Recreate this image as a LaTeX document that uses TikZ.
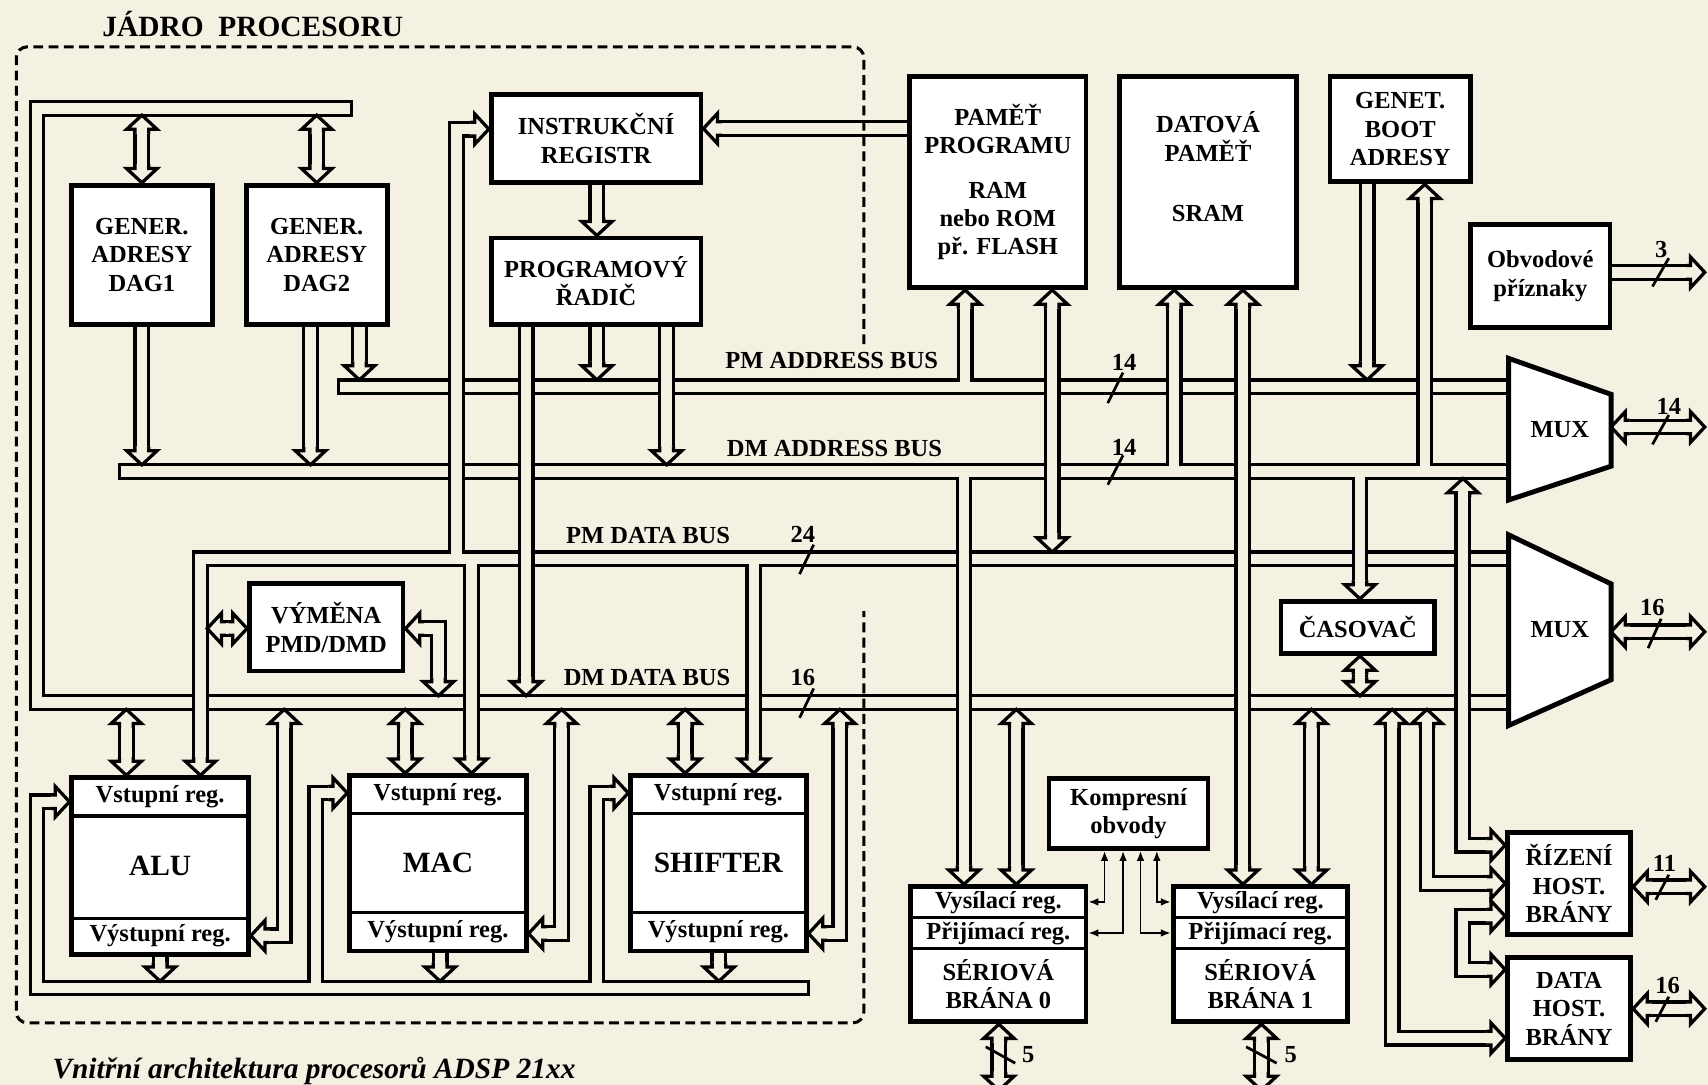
\documentclass[tikz,border=0pt]{standalone}
\usepackage{fontspec}
\setmainfont{Liberation Serif}
\usetikzlibrary{arrows.meta,calc,backgrounds}
\definecolor{paper}{HTML}{F4F1E3}
\tikzset{
  every node/.style={font=\bfseries\fontsize{22.5}{26}\selectfont, align=center, inner sep=0pt},
  blk/.style={draw, fill=white, line width=4.5pt},
  unit/.style={font=\bfseries\fontsize{27}{30}\selectfont},
  bus/.style={draw, line width=3pt, double=paper, double distance=9.5pt},
  busend/.style={line width=3pt},
  sig/.style={{Latex[length=9pt,width=7pt]}-{Latex[length=9pt,width=7pt]}, line width=1.5pt},
  slash/.style={line width=2.5pt},
  frame/.style={line width=2.8pt, dash pattern=on 9pt off 5pt, rounded corners=10pt},
  hd/.pic={\filldraw[fill=paper, line width=3pt] (-17,-6.25) -- (-13,-6.25) -- (-13,-14) -- (0,0) -- (-13,14) -- (-13,6.25) -- (-17,6.25);},
}

\begin{document}
\begin{tikzpicture}[x=1pt, y=-1pt]
  \useasboundingbox (0,0) rectangle (1568,996);

  % ---- processor core ----------------------------------------------------
  \node[blk, minimum width=129.5, minimum height=128] (dag1) at (130.25,234) {GENER.\\ADRESY\\DAG1};
  \node[blk, minimum width=129.5, minimum height=128] (dag2) at (290.75,234) {GENER.\\ADRESY\\DAG2};
  \node[blk, minimum width=192.5, minimum height=80.5] (instr) at (547.25,127.25) {INSTRUKČNÍ\\REGISTR};
  \node[blk, minimum width=192.5, minimum height=79.5] (radic) at (547.25,258.25) {PROGRAMOVÝ\\ŘADIČ};
  \node[blk, minimum width=141, minimum height=80] (vymena) at (299.5,576) {VÝMĚNA\\PMD/DMD};

  \node[blk, unit, minimum width=162, minimum height=162] (alu) at (147,795) {ALU};
  \node[blk, unit, minimum width=162, minimum height=161] (mac) at (402,792.5) {MAC};
  \node[blk, unit, minimum width=161, minimum height=161] (shifter) at (659.5,792.5) {SHIFTER};
  \draw[line width=3pt] (66,749) -- (228,749) (66,843) -- (228,843);
  \draw[line width=3pt] (321,747) -- (483,747) (321,838) -- (483,838);
  \draw[line width=3pt] (579,747) -- (740,747) (579,838) -- (740,838);
  \node (aluin) at (147,731) {Vstupní reg.};
  \node (aluout) at (147,859) {Výstupní reg.};
  \node (macin) at (402,729.5) {Vstupní reg.};
  \node (macout) at (402,855.5) {Výstupní reg.};
  \node (shin) at (659.5,729.5) {Vstupní reg.};
  \node (shout) at (659.5,855.5) {Výstupní reg.};

  % ---- memories and peripherals ------------------------------------------
  \node[blk, minimum width=162, minimum height=194] (pamprog) at (916,167)
    {\fontsize{22.5}{27.5}\selectfont PAMĚŤ\\PROGRAMU\\[15pt]RAM\\nebo ROM\\př. FLASH};
  \node[blk, minimum width=162, minimum height=194] (datpam) at (1109,167) {};
  \node (datpamt) at (1109,153) {DATOVÁ\\PAMĚŤ\\[29pt]SRAM};
  \node[blk, minimum width=129, minimum height=97] (boot) at (1285.5,118.5) {GENET.\\BOOT\\ADRESY};
  \node[blk, minimum width=128, minimum height=95] (flags) at (1414,253.5) {Obvodové\\příznaky};
  \node[blk, minimum width=141, minimum height=48] (casovac) at (1246.5,576) {ČASOVAČ};
  \node[blk, minimum width=146, minimum height=64] (kompres) at (1036,747) {Kompresní\\obvody};

  \node[blk, minimum width=161, minimum height=124] (ser0) at (916.5,876) {};
  \node[blk, minimum width=160, minimum height=124] (ser1) at (1157,876) {};
  \draw[line width=3pt] (836,842) -- (997,842) (836,871) -- (997,871);
  \draw[line width=3pt] (1077,842) -- (1237,842) (1077,871) -- (1237,871);
  \node (ser0tx) at (916.5,828.5) {Vysílací reg.};
  \node (ser0rx) at (916.5,857) {Přijímací reg.};
  \node (ser0n) at (916.5,903.5) {SÉRIOVÁ\\BRÁNA 0};
  \node (ser1tx) at (1157,828.5) {Vysílací reg.};
  \node (ser1rx) at (1157,857) {Přijímací reg.};
  \node (ser1n) at (1157,903.5) {SÉRIOVÁ\\BRÁNA 1};

  \node[blk, minimum width=113, minimum height=94] (rizeni) at (1440.5,811) {ŘÍZENÍ\\HOST.\\BRÁNY};
  \node[blk, minimum width=113, minimum height=94] (datahost) at (1440.5,926) {DATA\\HOST.\\BRÁNY};

  \filldraw[fill=white, line width=4.5pt] (1385,329) -- (1479,362) -- (1479,428) -- (1385,459) -- cycle;
  \filldraw[fill=white, line width=4.5pt] (1385,491) -- (1479,536) -- (1479,624) -- (1385,666) -- cycle;
  \node (mux1) at (1432,394) {MUX};
  \node (mux2) at (1432,578) {MUX};

  % bus levels
  \coordinate (topB) at (0,105.75);
  \coordinate (pmaT) at (0,348.75);  \coordinate (pmaTi) at (0,350.25);
  \coordinate (dmaT) at (0,426.75);  \coordinate (dmaTi) at (0,428.25);
  \coordinate (dmaB) at (0,439.25);  \coordinate (dmaBi) at (0,437.75);
  \coordinate (pmdT) at (0,506.75);  \coordinate (pmdTi) at (0,508.25);
  \coordinate (pmdBi) at (0,517.75);
  \coordinate (dmdT) at (0,638.75);  \coordinate (dmdB) at (0,651.25);
  \coordinate (resT) at (0,900.75);  \coordinate (resTi) at (0,902.25);
  \coordinate (edge) at (1565,0);

  \begin{scope}[on background layer]
    \fill[paper] (0,0) rectangle (1568,996);
    % ---- the four buses ----
    \draw[bus] (323,99.5) -- (34,99.5) -- (34,645) -- (1385,645);
    \draw[busend] (323,91.75) -- (323,107.25);
    \draw[bus] (311,355) -- (1385,355);
    \draw[busend] (311,347.25) -- (311,362.75);
    \draw[bus] (110,433) -- (1385,433);
    \draw[busend] (110,425.25) -- (110,440.75);
    \draw[bus, shorten >=13pt] (1385,513) -- (184,513) -- (alu.north -| 184,0);
    \pic[rotate=-90] at (alu.north -| 184,0) {hd};
    % result bus
    \draw[bus, shorten >=13pt] (742,907) -- (34,907) -- (34,736) -- (alu.west |- 0,736);
    \draw[busend] (742,899.25) -- (742,914.75);
    \pic at (alu.west |- 0,736) {hd};

    % ---- address generators ----
    \draw[bus, shorten <=13pt, shorten >=13pt] (dag1.north |- topB) -- (dag1.north);
    \pic[rotate=90] at (dag1.north |- topB) {hd};
    \pic[rotate=-90] at (dag1.north) {hd};
    \draw[bus, shorten <=13pt, shorten >=13pt] (dag2.north |- topB) -- (dag2.north);
    \pic[rotate=90] at (dag2.north |- topB) {hd};
    \pic[rotate=-90] at (dag2.north) {hd};
    \draw[bus, shorten >=13pt] (dag1.south) -- (dag1.south |- dmaT);
    \pic[rotate=-90] at (dag1.south |- dmaT) {hd};
    \draw[bus, shorten >=13pt] (dag2.south -| 285,0) -- (285,0 |- dmaT);
    \pic[rotate=-90] at (285,0 |- dmaT) {hd};
    \draw[bus, shorten >=13pt] (dag2.south -| 330,0) -- (330,0 |- pmaT);
    \pic[rotate=-90] at (330,0 |- pmaT) {hd};

    % ---- program flow ----
    \draw[bus, shorten >=13pt] (instr.south -| 548,0) -- (radic.north -| 548,0);
    \pic[rotate=-90] at (radic.north -| 548,0) {hd};
    \draw[bus, shorten >=13pt] (radic.south -| 548,0) -- (548,0 |- pmaT);
    \pic[rotate=-90] at (548,0 |- pmaT) {hd};
    \draw[bus, shorten >=13pt] (radic.south -| 612,0) -- (612,0 |- dmaT);
    \pic[rotate=-90] at (612,0 |- dmaT) {hd};
    \draw[bus, shorten >=13pt] (radic.south -| 483,0) -- (483,0 |- dmdT);
    \pic[rotate=-90] at (483,0 |- dmdT) {hd};
    \draw[bus, shorten >=13pt] (pamprog.west |- 0,118) -- (instr.east |- 0,118);
    \pic[rotate=180] at (instr.east |- 0,118) {hd};
    \draw[bus, shorten >=13pt] (419,0 |- pmdTi) -- (419,118.5) -- (instr.west |- 0,118.5);
    \pic at (instr.west |- 0,118.5) {hd};

    % ---- memories ----
    \draw[bus, shorten >=13pt] (886,0 |- pmaTi) -- (pamprog.south -| 886,0);
    \pic[rotate=90] at (pamprog.south -| 886,0) {hd};
    \draw[bus, shorten <=13pt, shorten >=13pt] (pamprog.south -| 966,0) -- (966,0 |- pmdT);
    \pic[rotate=90] at (pamprog.south -| 966,0) {hd};
    \pic[rotate=-90] at (966,0 |- pmdT) {hd};
    \draw[bus, shorten >=13pt] (1078,0 |- dmaTi) -- (datpam.south -| 1078,0);
    \pic[rotate=90] at (datpam.south -| 1078,0) {hd};
    \draw[bus, shorten <=13pt, shorten >=13pt] (datpam.south -| 1141,0) -- (ser1.north -| 1141,0);
    \pic[rotate=90] at (datpam.south -| 1141,0) {hd};
    \pic[rotate=-90] at (ser1.north -| 1141,0) {hd};
    \draw[bus, shorten >=13pt] (boot.south -| 1255,0) -- (1255,0 |- pmaT);
    \pic[rotate=-90] at (1255,0 |- pmaT) {hd};
    \draw[bus, shorten >=13pt] (1308,0 |- dmaTi) -- (boot.south -| 1308,0);
    \pic[rotate=90] at (boot.south -| 1308,0) {hd};

    % ---- timer ----
    \draw[bus, shorten >=13pt] (1248.5,0 |- dmaBi) -- (casovac.north -| 1248.5,0);
    \pic[rotate=-90] at (casovac.north -| 1248.5,0) {hd};
    \draw[bus, shorten <=13pt, shorten >=13pt] (casovac.south -| 1248.5,0) -- (1248.5,0 |- dmdT);
    \pic[rotate=90] at (casovac.south -| 1248.5,0) {hd};
    \pic[rotate=-90] at (1248.5,0 |- dmdT) {hd};

    % ---- PMD/DMD exchange ----
    \draw[bus, shorten <=13pt, shorten >=13pt] (190.25,577) -- (vymena.west |- 0,577);
    \pic[rotate=180] at (190.25,577) {hd};
    \pic at (vymena.west |- 0,577) {hd};
    \draw[bus, shorten <=13pt, shorten >=13pt] (vymena.east |- 0,577) -- (402.5,577) -- (402.5,0 |- dmdT);
    \pic[rotate=180] at (vymena.east |- 0,577) {hd};
    \pic[rotate=-90] at (402.5,0 |- dmdT) {hd};

    % ---- computation units ----
    \draw[bus, shorten >=13pt] (433,0 |- pmdBi) -- (mac.north -| 433,0);
    \pic[rotate=-90] at (mac.north -| 433,0) {hd};
    \draw[bus, shorten >=13pt] (692,0 |- pmdBi) -- (shifter.north -| 692,0);
    \pic[rotate=-90] at (shifter.north -| 692,0) {hd};
    \draw[bus, shorten <=13pt, shorten >=13pt] (116,0 |- dmdB) -- (alu.north -| 116,0);
    \pic[rotate=90] at (116,0 |- dmdB) {hd};
    \pic[rotate=-90] at (alu.north -| 116,0) {hd};
    \draw[bus, shorten <=13pt, shorten >=13pt] (372,0 |- dmdB) -- (mac.north -| 372,0);
    \pic[rotate=90] at (372,0 |- dmdB) {hd};
    \pic[rotate=-90] at (mac.north -| 372,0) {hd};
    \draw[bus, shorten <=13pt, shorten >=13pt] (629,0 |- dmdB) -- (shifter.north -| 629,0);
    \pic[rotate=90] at (629,0 |- dmdB) {hd};
    \pic[rotate=-90] at (shifter.north -| 629,0) {hd};
    \draw[bus, shorten <=13pt, shorten >=13pt] (261,0 |- dmdB) -- (261,859) -- (alu.east |- 0,859);
    \pic[rotate=90] at (261,0 |- dmdB) {hd};
    \pic[rotate=180] at (alu.east |- 0,859) {hd};
    \draw[bus, shorten <=13pt, shorten >=13pt] (515.5,0 |- dmdB) -- (515.5,857) -- (mac.east |- 0,857);
    \pic[rotate=90] at (515.5,0 |- dmdB) {hd};
    \pic[rotate=180] at (mac.east |- 0,857) {hd};
    \draw[bus, shorten <=13pt, shorten >=13pt] (771,0 |- dmdB) -- (771,857) -- (shifter.east |- 0,857);
    \pic[rotate=90] at (771,0 |- dmdB) {hd};
    \pic[rotate=180] at (shifter.east |- 0,857) {hd};
    \draw[bus, shorten >=13pt] (290,0 |- resTi) -- (290,728) -- (mac.west |- 0,728);
    \pic at (mac.west |- 0,728) {hd};
    \draw[bus, shorten >=13pt] (548,0 |- resTi) -- (548,728) -- (shifter.west |- 0,728);
    \pic at (shifter.west |- 0,728) {hd};
    \draw[bus, shorten >=13pt] (alu.south) -- (alu.south |- resT);
    \pic[rotate=-90] at (alu.south |- resT) {hd};
    \draw[bus, shorten >=13pt] (mac.south -| 404,0) -- (404,0 |- resT);
    \pic[rotate=-90] at (404,0 |- resT) {hd};
    \draw[bus, shorten >=13pt] (shifter.south -| 660,0) -- (660,0 |- resT);
    \pic[rotate=-90] at (660,0 |- resT) {hd};

    % ---- serial ports ----
    \draw[bus, shorten >=13pt] (885,0 |- dmaBi) -- (ser0.north -| 885,0);
    \pic[rotate=-90] at (ser0.north -| 885,0) {hd};
    \draw[bus, shorten <=13pt, shorten >=13pt] (933,0 |- dmdB) -- (ser0.north -| 933,0);
    \pic[rotate=90] at (933,0 |- dmdB) {hd};
    \pic[rotate=-90] at (ser0.north -| 933,0) {hd};
    \draw[bus, shorten <=13pt, shorten >=13pt] (1204,0 |- dmdB) -- (ser1.north -| 1204,0);
    \pic[rotate=90] at (1204,0 |- dmdB) {hd};
    \pic[rotate=-90] at (ser1.north -| 1204,0) {hd};
    \draw[bus, shorten <=13pt, shorten >=13pt] (ser0.south -| 917,0) -- (917,1001);
    \pic[rotate=90] at (ser0.south -| 917,0) {hd};
    \pic[rotate=-90] at (917,1001) {hd};
    \draw[bus, shorten <=13pt, shorten >=13pt] (ser1.south -| 1158,0) -- (1158,1001);
    \pic[rotate=90] at (ser1.south -| 1158,0) {hd};
    \pic[rotate=-90] at (1158,1001) {hd};
    \draw[sig] (kompres.south -| 1014,0) -- (1014,828) -- (ser0.east |- 0,828);
    \draw[sig] (kompres.south -| 1031,0) -- (1031,856.5) -- (ser0.east |- 0,856.5);
    \draw[sig] (kompres.south -| 1047,0) -- (1047,856.5) -- (ser1.west |- 0,856.5);
    \draw[sig] (kompres.south -| 1062,0) -- (1062,828) -- (ser1.west |- 0,828);

    % ---- host port ----
    \draw[bus, shorten <=13pt, shorten >=13pt] (1343,0 |- dmaB) -- (1343,776) -- (rizeni.west |- 0,776);
    \pic[rotate=90] at (1343,0 |- dmaB) {hd};
    \pic at (rizeni.west |- 0,776) {hd};
    \draw[bus, shorten <=13pt, shorten >=13pt] (1310,0 |- dmdB) -- (1310,811) -- (rizeni.west |- 0,811);
    \pic[rotate=90] at (1310,0 |- dmdB) {hd};
    \pic at (rizeni.west |- 0,811) {hd};
    \draw[bus, shorten <=13pt, shorten >=13pt] (1278,0 |- dmdB) -- (1278,953) -- (datahost.west |- 0,953);
    \pic[rotate=90] at (1278,0 |- dmdB) {hd};
    \pic at (datahost.west |- 0,953) {hd};
    \draw[bus, shorten <=13pt, shorten >=13pt] (rizeni.west |- 0,841) -- (1343,841) -- (1343,890) -- (datahost.west |- 0,890);
    \pic at (rizeni.west |- 0,841) {hd};
    \pic at (datahost.west |- 0,890) {hd};

    % ---- external pins ----
    \draw[bus, shorten >=13pt] (flags.east |- 0,250) -- (edge |- 0,250);
    \pic at (edge |- 0,250) {hd};
    \draw[bus, shorten <=13pt, shorten >=13pt] (1479,392) -- (edge |- 0,392);
    \pic[rotate=180] at (1479,392) {hd};
    \pic at (edge |- 0,392) {hd};
    \draw[bus, shorten <=13pt, shorten >=13pt] (1479,580) -- (edge |- 0,580);
    \pic[rotate=180] at (1479,580) {hd};
    \pic at (edge |- 0,580) {hd};
    \draw[bus, shorten <=13pt, shorten >=13pt] (rizeni.east |- 0,814) -- (edge |- 0,814);
    \pic[rotate=180] at (rizeni.east |- 0,814) {hd};
    \pic at (edge |- 0,814) {hd};
    \draw[bus, shorten <=13pt, shorten >=13pt] (datahost.east |- 0,926) -- (edge |- 0,926);
    \pic[rotate=180] at (datahost.east |- 0,926) {hd};
    \pic at (edge |- 0,926) {hd};
  \end{scope}

  % ---- bus names and widths ----
  \node (pmalbl) at (763.5,330.5) {PM ADDRESS BUS};
  \node (dmalbl) at (766,411.5) {DM ADDRESS BUS};
  \node (pmdlbl) at (595,492) {PM DATA BUS};
  \node (dmdlbl) at (594,622) {DM DATA BUS};
  \node (pmaw) at (1032,333) {14};
  \node (dmaw) at (1032,411) {14};
  \node (pmdw) at (737,491) {24};
  \node (dmdw) at (737,622) {16};
  \node (flagw) at (1525,229) {3};
  \node (mux1w) at (1532,373) {14};
  \node (mux2w) at (1517,558) {16};
  \node (rizw) at (1528,793) {11};
  \node (dataw) at (1531,905) {16};
  \node (ser0w) at (944,968) {5};
  \node (ser1w) at (1185,968) {5};
  \draw[slash] (1017,370) -- (1031,342) (1017,445) -- (1031,418);
  \draw[slash] (734,527) -- (747,500) (734,659) -- (747,632);
  \draw[slash] (1517,263) -- (1532,237) (1517,408) -- (1532,381) (1513,595) -- (1525,568);
  \draw[slash] (1520,826) -- (1532,803) (1520,938) -- (1532,915);
  \draw[slash] (905,961) -- (932,976) (1144,961) -- (1172,976);

  % ---- core frame and titles ----
  \draw[frame] (793,316) -- (793,43) -- (15,43) -- (15,939) -- (793,939) -- (793,561);
  \node[font=\bfseries\fontsize{27}{30}\selectfont] (title) at (232,22) {JÁDRO\ \ PROCESORU};
  \node[font=\bfseries\itshape\fontsize{27}{30}\selectfont, anchor=west] (caption) at (48,983) {Vnitřní architektura procesorů ADSP 21xx};
\end{tikzpicture}
\end{document}
